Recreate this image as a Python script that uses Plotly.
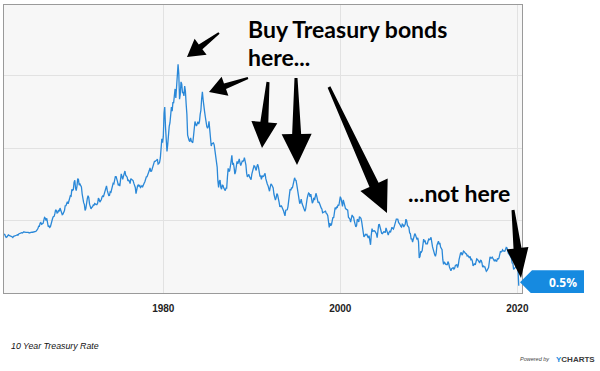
import numpy as np
import pandas as pd
import plotly.graph_objects as go

# ---------------- data: 10 Year Treasury Rate, monthly, from Jan 1962 ----------------
start_month = "1962-01-01"
rates = [
    # 1962
    4.08, 4.04, 3.93, 3.84, 3.87, 3.91, 4.01, 3.98, 3.98, 3.93, 3.92, 3.86,
    # 1963
    3.83, 3.92, 3.93, 3.97, 3.93, 3.99, 4.02, 4.00, 4.08, 4.11, 4.12, 4.13,
    # 1964
    4.17, 4.15, 4.22, 4.23, 4.20, 4.17, 4.19, 4.19, 4.20, 4.19, 4.15, 4.18,
    # 1965
    4.19, 4.21, 4.21, 4.20, 4.21, 4.21, 4.20, 4.25, 4.29, 4.35, 4.45, 4.62,
    # 1966
    4.61, 4.83, 4.87, 4.75, 4.78, 4.81, 5.02, 5.22, 5.18, 5.01, 5.16, 4.84,
    # 1967
    4.58, 4.63, 4.54, 4.59, 4.85, 5.02, 5.16, 5.28, 5.30, 5.48, 5.75, 5.70,
    # 1968
    5.53, 5.56, 5.74, 5.64, 5.87, 5.72, 5.50, 5.42, 5.46, 5.58, 5.70, 6.03,
    # 1969
    6.04, 6.19, 6.30, 6.17, 6.32, 6.57, 6.72, 6.69, 7.16, 7.10, 7.14, 7.65,
    # 1970
    7.79, 7.24, 7.07, 7.39, 7.91, 7.84, 7.46, 7.53, 7.39, 7.33, 6.84, 6.39,
    # 1971
    6.24, 6.11, 5.70, 5.83, 6.39, 6.52, 6.73, 6.58, 6.14, 5.93, 5.81, 5.93,
    # 1972
    5.95, 6.08, 6.07, 6.19, 6.13, 6.11, 6.11, 6.21, 6.55, 6.48, 6.28, 6.36,
    # 1973
    6.46, 6.64, 6.71, 6.67, 6.85, 6.90, 7.13, 7.40, 7.09, 6.79, 6.73, 6.74,
    # 1974
    6.99, 6.96, 7.21, 7.51, 7.58, 7.54, 7.81, 8.04, 8.04, 7.90, 7.68, 7.43,
    # 1975
    7.50, 7.39, 7.73, 8.23, 8.06, 7.86, 8.06, 8.40, 8.43, 8.14, 8.05, 8.00,
    # 1976
    7.74, 7.79, 7.73, 7.56, 7.90, 7.86, 7.83, 7.77, 7.59, 7.41, 7.29, 6.87,
    # 1977
    7.21, 7.39, 7.46, 7.37, 7.46, 7.28, 7.33, 7.40, 7.34, 7.52, 7.58, 7.69,
    # 1978
    8.01, 8.03, 8.04, 8.15, 8.35, 8.46, 8.64, 8.41, 8.42, 8.64, 8.81, 9.01,
    # 1979
    9.10, 9.10, 9.12, 9.18, 9.25, 8.91, 8.95, 9.03, 9.33, 10.30, 10.65, 10.39,
    # 1980
    10.80, 12.41, 12.85, 11.47, 10.18, 9.78, 10.25, 11.10, 11.51, 11.75, 12.68, 12.84,
    # 1981
    12.57, 13.19, 13.12, 13.68, 14.10, 13.47, 14.28, 14.94, 15.80, 15.15, 13.39, 13.72,
    # 1982
    14.59, 14.43, 13.86, 13.87, 13.62, 14.30, 13.95, 13.06, 12.34, 10.91, 10.55, 10.54,
    # 1983
    10.46, 10.72, 10.51, 10.40, 10.38, 10.85, 11.38, 11.85, 11.65, 11.54, 11.69, 11.83,
    # 1984
    11.67, 11.84, 12.32, 12.63, 13.41, 13.90, 13.36, 12.72, 12.52, 12.16, 11.57, 11.50,
    # 1985
    11.38, 11.51, 11.86, 11.43, 10.85, 10.16, 10.31, 10.33, 10.37, 10.24, 9.78, 9.26,
    # 1986
    9.19, 8.70, 7.78, 7.30, 7.71, 7.80, 7.30, 7.17, 7.45, 7.43, 7.25, 7.11,
    # 1987
    7.08, 7.25, 7.25, 8.02, 8.61, 8.40, 8.45, 8.76, 9.42, 9.52, 8.86, 8.99,
    # 1988
    8.67, 8.21, 8.37, 8.72, 9.09, 8.92, 9.06, 9.26, 8.98, 8.80, 8.96, 9.11,
    # 1989
    9.09, 9.17, 9.36, 9.18, 8.86, 8.28, 8.02, 8.11, 8.19, 8.01, 7.87, 7.84,
    # 1990
    8.21, 8.47, 8.59, 8.79, 8.76, 8.48, 8.47, 8.75, 8.89, 8.72, 8.39, 8.08,
    # 1991
    8.09, 7.85, 8.11, 8.04, 8.07, 8.28, 8.27, 7.90, 7.65, 7.53, 7.42, 7.09,
    # 1992
    7.03, 7.34, 7.54, 7.48, 7.39, 7.26, 6.84, 6.59, 6.42, 6.59, 6.87, 6.77,
    # 1993
    6.60, 6.26, 5.98, 5.97, 6.04, 5.96, 5.81, 5.68, 5.36, 5.33, 5.72, 5.77,
    # 1994
    5.75, 5.97, 6.48, 6.97, 7.18, 7.10, 7.30, 7.24, 7.46, 7.74, 7.96, 7.81,
    # 1995
    7.78, 7.47, 7.20, 7.06, 6.63, 6.17, 6.28, 6.49, 6.20, 6.04, 5.93, 5.71,
    # 1996
    5.65, 5.81, 6.27, 6.51, 6.74, 6.91, 6.87, 6.64, 6.83, 6.53, 6.20, 6.30,
    # 1997
    6.58, 6.42, 6.69, 6.89, 6.71, 6.49, 6.22, 6.30, 6.21, 6.03, 5.88, 5.81,
    # 1998
    5.54, 5.57, 5.65, 5.64, 5.65, 5.50, 5.46, 5.34, 4.81, 4.53, 4.83, 4.65,
    # 1999
    4.72, 5.00, 5.23, 5.18, 5.54, 5.90, 5.79, 5.94, 5.92, 6.11, 6.03, 6.28,
    # 2000
    6.66, 6.52, 6.26, 5.99, 6.44, 6.10, 6.05, 5.83, 5.80, 5.74, 5.72, 5.24,
    # 2001
    5.16, 5.10, 4.89, 5.14, 5.39, 5.28, 5.24, 4.97, 4.73, 4.57, 4.65, 5.09,
    # 2002
    5.04, 4.91, 5.28, 5.21, 5.16, 4.93, 4.65, 4.26, 3.87, 3.94, 4.05, 4.03,
    # 2003
    4.05, 3.90, 3.81, 3.96, 3.57, 3.33, 3.98, 4.45, 4.27, 4.29, 4.30, 4.27,
    # 2004
    4.15, 4.08, 3.83, 4.35, 4.72, 4.73, 4.50, 4.28, 4.13, 4.10, 4.19, 4.23,
    # 2005
    4.22, 4.17, 4.50, 4.34, 4.14, 4.00, 4.18, 4.26, 4.20, 4.46, 4.54, 4.47,
    # 2006
    4.42, 4.57, 4.72, 4.99, 5.11, 5.11, 5.09, 4.88, 4.72, 4.73, 4.60, 4.56,
    # 2007
    4.76, 4.72, 4.56, 4.69, 4.75, 5.10, 5.00, 4.67, 4.52, 4.53, 4.15, 4.10,
    # 2008
    3.74, 3.74, 3.51, 3.68, 3.88, 4.10, 4.01, 3.89, 3.69, 3.81, 3.53, 2.42,
    # 2009
    2.52, 2.87, 2.82, 2.93, 3.29, 3.72, 3.56, 3.59, 3.40, 3.39, 3.40, 3.59,
    # 2010
    3.73, 3.69, 3.73, 3.85, 3.42, 3.20, 3.01, 2.70, 2.65, 2.54, 2.76, 3.29,
    # 2011
    3.39, 3.58, 3.41, 3.46, 3.17, 3.00, 3.00, 2.30, 1.98, 2.15, 2.01, 1.98,
    # 2012
    1.97, 1.97, 2.17, 2.05, 1.80, 1.62, 1.53, 1.68, 1.72, 1.75, 1.65, 1.72,
    # 2013
    1.91, 1.98, 1.96, 1.76, 1.93, 2.30, 2.58, 2.74, 2.81, 2.62, 2.72, 2.90,
    # 2014
    2.86, 2.71, 2.72, 2.71, 2.56, 2.60, 2.54, 2.42, 2.53, 2.30, 2.33, 2.21,
    # 2015
    1.88, 1.98, 2.04, 1.94, 2.20, 2.36, 2.32, 2.17, 2.17, 2.07, 2.26, 2.24,
    # 2016
    2.09, 1.78, 1.89, 1.81, 1.81, 1.64, 1.50, 1.56, 1.63, 1.76, 2.14, 2.49,
    # 2017
    2.43, 2.42, 2.48, 2.30, 2.30, 2.19, 2.32, 2.21, 2.20, 2.36, 2.35, 2.40,
    # 2018
    2.58, 2.86, 2.84, 2.87, 2.98, 2.91, 2.89, 2.89, 3.00, 3.15, 3.12, 2.83,
    # 2019
    2.71, 2.68, 2.57, 2.53, 2.40, 2.07, 2.06, 1.63, 1.70, 1.71, 1.81, 1.86,
    # 2020
    1.76, 1.50, 0.50,
]
x_tick_years = ["1980", "2000", "2020"]
y_grid_values = [0, 5, 10, 15]
series_name = "10 Year Treasury Rate"

dates = pd.date_range(start_month, periods=len(rates), freq="MS")
last_value = rates[-1]

# ---------------- layout geometry (pixels) ----------------
W, H = 600, 371
PL, PR, PT, PB = 4, 522, 5, 293   # plot area edges


def px2paper(px, py):
    return (px - PL) / (PR - PL), (PB - py) / (PB - PT)


def wedge_arrow(tx, ty, hx, hy, head_len, head_half, w_tail, w_head):
    d = np.array([hx - tx, hy - ty], dtype=float)
    L = np.hypot(*d)
    u = d / L
    n = np.array([-u[1], u[0]])
    tail = np.array([tx, ty], dtype=float)
    tip = np.array([hx, hy], dtype=float)
    base = tip - u * head_len
    pts = [
        tail + n * w_tail / 2,
        base + n * w_head / 2,
        base + n * head_half,
        tip,
        base - n * head_half,
        base - n * w_head / 2,
        tail - n * w_tail / 2,
    ]
    pp = [px2paper(p[0], p[1]) for p in pts]
    path = "M " + " L ".join(f"{a:.5f},{b:.5f}" for a, b in pp) + " Z"
    return dict(type="path", xref="paper", yref="paper", path=path,
                fillcolor="#000000", line=dict(width=0), layer="above")


arrow_specs = [
    (219, 33, 187, 57, 17, 10, 2, 6),
    (248, 78, 209, 92, 17, 10, 2, 6),
    (268, 82, 262, 148, 26, 13, 3, 8),
    (296, 78, 297, 165, 31, 15, 3, 9),
    (329, 87, 387, 213, 31, 15, 3, 10),
    (513, 210, 521, 278, 30, 11, 3, 8),
]

fig = go.Figure()
fig.add_trace(go.Scatter(
    x=dates, y=rates, mode="lines", name=series_name,
    line=dict(color="#2a88d8", width=1.3), hoverinfo="x+y",
))

shapes = [wedge_arrow(*s) for s in arrow_specs]

# value flag at the right edge, anchored at the last value
shapes.append(dict(
    type="path", xref="paper", yref="y",
    xsizemode="pixel", ysizemode="pixel", xanchor=1.0, yanchor=last_value,
    path="M -2,3.5 L 10,15.5 L 62,15.5 L 62,-8.5 L 10,-8.5 Z",
    fillcolor="#168ae0", line=dict(width=0), layer="above",
))

annotations = []


def text_ann(text, px, py, size, xanchor="left", color="#111111", family="Lato", weight=None, italic=False, yanchor="middle"):
    xp, yp = px2paper(px, py)
    t = text
    if weight == "bold":
        t = f"<b>{t}</b>"
    if italic:
        t = f"<i>{t}</i>"
    return dict(text=t, x=xp, y=yp, xref="paper", yref="paper", showarrow=False,
                xanchor=xanchor, yanchor=yanchor,
                font=dict(family=family, size=size, color=color))


annotations.append(text_ann("Buy Treasury bonds", 246, 29, 23, weight="bold", color="#000000"))
annotations.append(text_ann("here...", 246, 57, 23, weight="bold", color="#000000"))
annotations.append(text_ann("...not here", 406, 193, 23, weight="bold", color="#000000"))
annotations.append(text_ann(series_name, 9, 346, 8.8, family="Liberation Sans, Arial", italic=True, color="#111111"))
annotations.append(text_ann("Powered by", 552, 359, 5.5, xanchor="right", family="Liberation Sans, Arial", italic=True, color="#444444"))
annotations.append(dict(
    text="<b><span style='color:#1a8be0'>Y</span>CHARTS</b>",
    x=px2paper(554, 359)[0], y=px2paper(554, 359)[1], xref="paper", yref="paper",
    showarrow=False, xanchor="left", yanchor="middle",
    font=dict(family="Liberation Sans, Arial", size=8, color="#3a3a3a"),
))
annotations.append(dict(
    text=f"<b>{last_value}%</b>", x=px2paper(563, 0)[0], y=last_value, yshift=3.5,
    xref="paper", yref="y", showarrow=False, xanchor="center", yanchor="middle",
    font=dict(family="Open Sans, Arial", size=12, color="#ffffff"),
))

fig.update_layout(
    width=W, height=H,
    margin=dict(l=PL, r=W - PR, t=PT, b=H - PB, pad=0),
    paper_bgcolor="#ffffff", plot_bgcolor="#f7f7f7",
    showlegend=False,
    shapes=shapes, annotations=annotations,
    xaxis=dict(
        type="date", range=["1962-01-01", "2020-07-12"],
        tickvals=[f"{y}-01-01" for y in x_tick_years], ticktext=x_tick_years,
        showgrid=True, gridcolor="#e2e2e2", gridwidth=1,
        showline=True, linecolor="#9a9a9a", linewidth=1, mirror=True,
        ticks="outside", ticklen=6, tickcolor="rgba(0,0,0,0)",
        tickfont=dict(family="Liberation Sans, Arial", size=10, color="#222222", weight="bold"),
        zeroline=False, fixedrange=True,
    ),
    yaxis=dict(
        range=[0, 19.9], tickvals=y_grid_values, showticklabels=False,
        showgrid=True, gridcolor="#e2e2e2", gridwidth=1,
        showline=True, linecolor="#9a9a9a", linewidth=1, mirror=True,
        zeroline=False, fixedrange=True,
    ),
)

fig.write_html(
    "out.html",
    config={"displayModeBar": False},
    post_script="document.body.style.margin='0px'; document.body.style.padding='0px';",
)
